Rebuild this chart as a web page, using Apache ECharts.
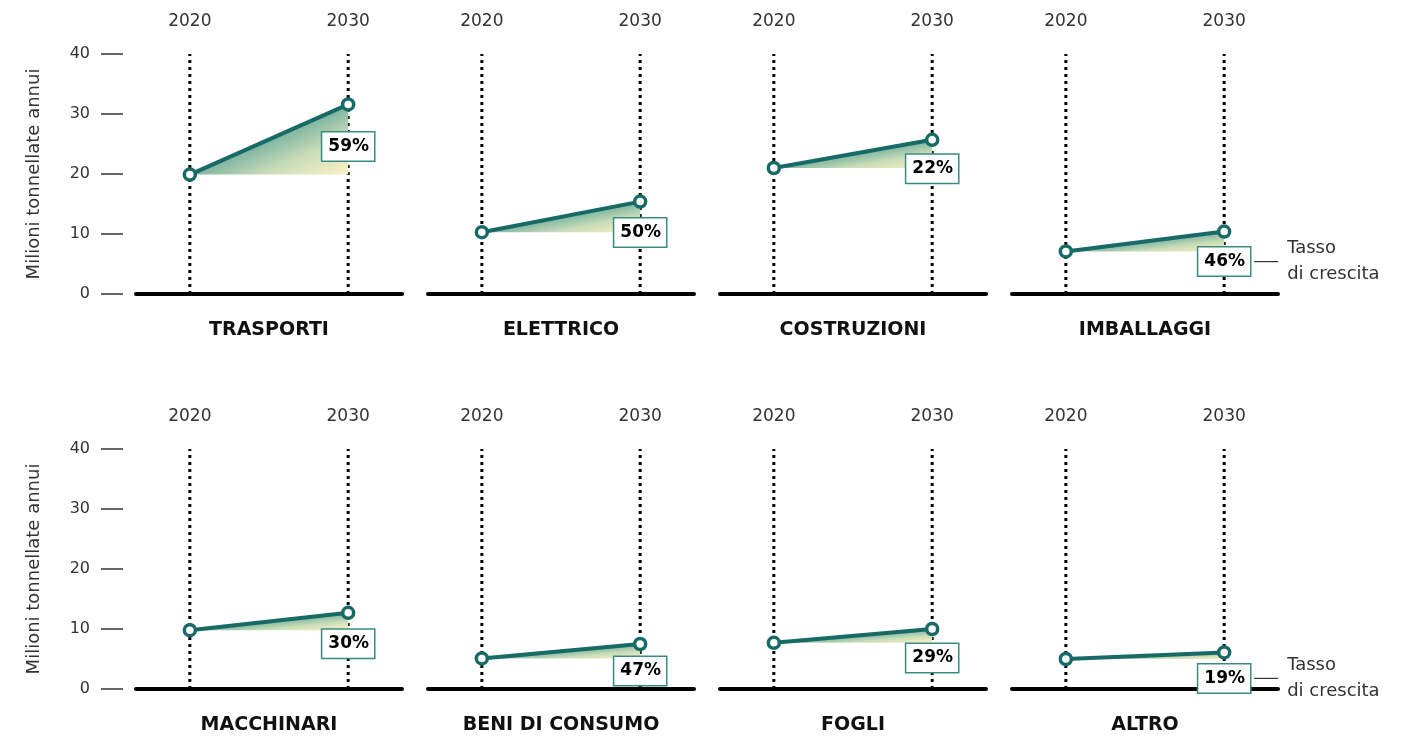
<!DOCTYPE html>
<html>
<head>
<meta charset="utf-8">
<script src="https://cdn.jsdelivr.net/npm/echarts@6/dist/echarts.min.js"></script>
<style>
  html, body { margin: 0; padding: 0; background: #fff; }
  #chart { width: 1414px; height: 740px; }
</style>
</head>
<body>
<div id="chart"></div>
<script>
// ---- data ----
const categories = ['TRASPORTI', 'ELETTRICO', 'COSTRUZIONI', 'IMBALLAGGI',
                    'MACCHINARI', 'BENI DI CONSUMO', 'FOGLI', 'ALTRO'];
const years = [2020, 2030];
const values2020 = [19.9, 10.3, 21.0, 7.1, 9.8, 5.1, 7.7, 5.0];
const values2030 = [31.6, 15.4, 25.7, 10.4, 12.7, 7.5, 10.0, 6.1];
const growthPct = [59, 50, 22, 46, 30, 47, 29, 19];
const yTicks = [0, 10, 20, 30, 40];
const yAxisName = 'Milioni tonnellate annui';
const annotationText = 'Tasso\ndi crescita';

// ---- layout / style (not data) ----
const labelDy = [42, 31, 29, 30, 31, 27, 29, 26];
const LINE = '#176a66';
const BOX = '#3b8a82';
const FONT = 'DejaVu Sans';
const GRID_W = 266, GRID_H = 240, GRID_STEP = 292, GRID_LEFT = 136;
const ROW_TOP = [54, 449];
const X_MIN = 2016.6, X_MAX = 2033.4;

// gradient whose colour bands run parallel to the growth line (teal near the line, yellow far from it)
function areaGradient(v0, v1) {
  const pxPerYear = GRID_W / (X_MAX - X_MIN);
  const pxPerUnit = GRID_H / (yTicks[yTicks.length - 1] - yTicks[0]);
  const w = (years[1] - years[0]) * pxPerYear;
  const h = Math.max(1, Math.abs(v1 - v0) * pxPerUnit);
  const s = w * w + h * h;
  return {
    type: 'linear', x: 0.5, y: 0.5, x2: 0.5 + h * h / s, y2: 0.5 + w * w / s,
    colorStops: [
      { offset: 0, color: '#7db4a0' },
      { offset: 0.45, color: '#c8dcb8' },
      { offset: 1, color: '#fdf2c4' }
    ]
  };
}

const chart = echarts.init(document.getElementById('chart'), null, { renderer: 'canvas' });

const grids = [], xAxes = [], xAxesTop = [], yAxes = [], series = [];
categories.forEach((cat, i) => {
  const row = i < 4 ? 0 : 1;
  const col = i % 4;
  grids.push({ left: GRID_LEFT + GRID_STEP * col, top: ROW_TOP[row], width: GRID_W, height: GRID_H });
  xAxes.push({
    type: 'value', gridIndex: i, min: X_MIN, max: X_MAX, position: 'bottom',
    axisLine: { show: true, onZero: true, lineStyle: { color: '#000', width: 4 } },
    axisTick: { show: false }, axisLabel: { show: false }, splitLine: { show: false },
    name: cat, nameLocation: 'middle', nameGap: 27,
    nameTextStyle: { fontFamily: FONT, fontWeight: 'bold', fontSize: 19, color: '#111' }
  });
  xAxesTop.push({
    type: 'value', gridIndex: i, min: X_MIN, max: X_MAX, position: 'top',
    axisLine: { show: false }, axisTick: { show: false }, splitLine: { show: false },
    axisLabel: {
      show: true, customValues: years, formatter: v => String(v),
      fontFamily: FONT, fontSize: 17, color: '#333', margin: 24
    }
  });
  const showY = col === 0;
  yAxes.push({
    type: 'value', gridIndex: i, min: yTicks[0], max: yTicks[yTicks.length - 1], interval: 10,
    show: showY, offset: 13,
    axisLine: { show: false },
    axisTick: { show: true, length: 22, lineStyle: { color: '#333', width: 1.5 } },
    axisLabel: { show: true, margin: 33, fontFamily: FONT, fontSize: 16, color: '#333' },
    splitLine: { show: false },
    name: showY ? yAxisName : '', nameLocation: 'middle', nameGap: 80, nameRotate: 90,
    nameTextStyle: { fontFamily: FONT, fontSize: 18, color: '#333' }
  });
  // dotted vertical reference lines at each year
  years.forEach(yr => {
    series.push({
      type: 'line', xAxisIndex: i, yAxisIndex: i, silent: true, z: 1,
      symbol: 'none', animation: false,
      data: [[yr, yTicks[0]], [yr, yTicks[yTicks.length - 1]]],
      lineStyle: { color: '#000', width: 3, type: [3, 4] }
    });
  });
  // main growth line
  series.push({
    type: 'line', xAxisIndex: i, yAxisIndex: i, z: 3, animation: false,
    symbol: 'circle', symbolSize: 11,
    itemStyle: { color: '#fff', borderColor: LINE, borderWidth: 3.5 },
    lineStyle: { color: LINE, width: 4 },
    areaStyle: { origin: values2020[i], opacity: 1, color: areaGradient(values2020[i], values2030[i]) },
    data: [
      [years[0], values2020[i]],
      {
        value: [years[1], values2030[i]],
        label: {
          show: true, position: 'inside', offset: [0, labelDy[i]],
          formatter: growthPct[i] + '%',
          backgroundColor: '#fff', borderColor: BOX, borderWidth: 1.5,
          padding: [6, 5, 5, 6],
          fontFamily: FONT, fontWeight: 'bold', fontSize: 17, color: '#000'
        }
      }
    ]
  });
});

chart.setOption({
  animation: false,
  backgroundColor: '#fff',
  grid: grids,
  xAxis: xAxes.concat(xAxesTop),
  yAxis: yAxes,
  series: series
});

// "Tasso di crescita" annotations next to the right-hand panels' labels
const graphics = [];
[3, 7].forEach(i => {
  const p = chart.convertToPixel({ xAxisIndex: i, yAxisIndex: i }, [years[1], values2030[i]]);
  const cy = p[1] + labelDy[i];
  graphics.push({
    type: 'line', silent: true,
    shape: { x1: p[0] + 30, y1: cy, x2: p[0] + 54, y2: cy },
    style: { stroke: '#333', lineWidth: 1.2 }
  });
  graphics.push({
    type: 'text', silent: true, x: p[0] + 63, y: cy,
    style: {
      text: annotationText, fontFamily: FONT, fontSize: 18, fill: '#333',
      lineHeight: 26, verticalAlign: 'middle', align: 'left'
    }
  });
});
chart.setOption({ graphic: graphics });
</script>
</body>
</html>
